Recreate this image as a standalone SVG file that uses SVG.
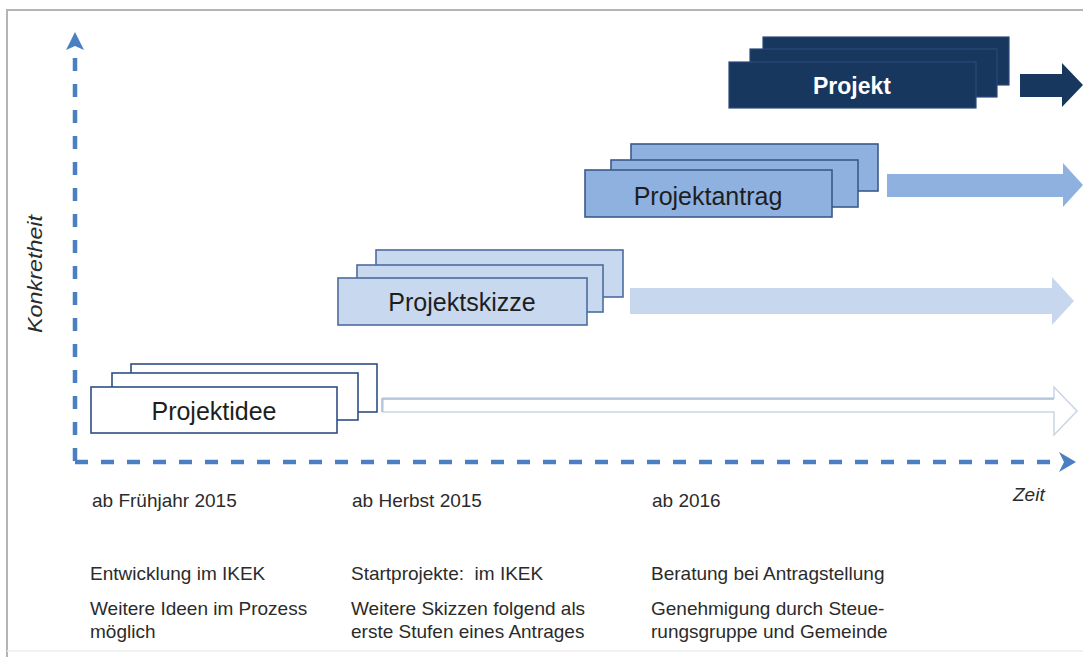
<svg xmlns="http://www.w3.org/2000/svg" width="1083" height="657" viewBox="0 0 1083 657">
  <style>
    .frame { fill: none; stroke: #b4b4b4; stroke-width: 2; }
    .axis { fill: none; stroke: #4a7fc1; stroke-width: 4.5; stroke-dasharray: 13 13; }
    .axis-head { fill: #4a7fc1; }
    .box-text { font-family: "Liberation Sans", Arial, sans-serif; font-size: 25px; text-anchor: middle; fill: #1e1e1e; }
    .note { font-family: "Liberation Sans", Arial, sans-serif; font-size: 19px; fill: #2b2b2b; }
    .axis-label { font-family: "Liberation Sans", Arial, sans-serif; font-size: 19px; font-style: italic; fill: #2b2b2b; }
    .idee rect { fill: #ffffff; stroke: #2f4f86; stroke-width: 1.6; }
    .skizze rect { fill: #c8d8ee; stroke: #4d6c9e; stroke-width: 1.6; }
    .antrag rect { fill: #8fb1df; stroke: #3a5a8c; stroke-width: 1.6; }
    .projekt rect { fill: #17375e; stroke: #2a4a78; stroke-width: 1.2; }
  </style>

  <!-- outer frame -->
  <path class="frame" d="M7 657 V10 H1083"/>
  <line x1="7" y1="651" x2="1083" y2="651" stroke="#ececec" stroke-width="1.5"/>

  <!-- axes -->
  <g id="axes">
    <line class="axis" x1="75" y1="461" x2="75" y2="50"/>
    <path class="axis-head" d="M75 32 L84 50 L75 46 L66 50 Z"/>
    <line class="axis" x1="75" y1="462" x2="1060" y2="462"/>
    <path class="axis-head" d="M1076 462 L1059 452 L1064 462 L1059 472 Z"/>
    <text class="axis-label" transform="translate(42 274) rotate(-90)" text-anchor="middle" textLength="118" lengthAdjust="spacingAndGlyphs" style="font-size:20px">Konkretheit</text>
    <text class="axis-label" x="1013" y="501">Zeit</text>
  </g>

  <!-- phase arrows -->
  <g id="connectors">
    <path d="M383 398 H1054 V387 L1077 411 L1054 435 V412 H383 Z" fill="#ffffff" stroke="#c9d5e4" stroke-width="1.5"/>
    <line x1="383" y1="399" x2="1054" y2="399" stroke="#a9bdd6" stroke-width="1.5"/>
    <line x1="382" y1="398" x2="382" y2="412" stroke="#a9bdd6" stroke-width="1.5"/>
    <path d="M630 288 H1052 V277 L1074 301 L1052 325 V314 H630 Z" fill="#c6d7ee"/>
    <path d="M887 174 H1063 V163 L1083 185 L1063 207 V197 H887 Z" fill="#8fb1df"/>
    <path d="M1020 74 H1062 V63 L1083 85 L1062 107 V97 H1020 Z" fill="#17375e"/>
  </g>

  <!-- Projektidee -->
  <g id="node-projektidee" class="idee">
    <rect x="131" y="364" width="246" height="48"/>
    <rect x="112" y="373" width="246" height="47"/>
    <rect x="91" y="387" width="246" height="46"/>
    <text class="box-text" x="214" y="420">Projektidee</text>
  </g>

  <!-- Projektskizze -->
  <g id="node-projektskizze" class="skizze">
    <rect x="376" y="250" width="247" height="47"/>
    <rect x="357" y="265" width="246" height="47"/>
    <rect x="338" y="278" width="249" height="47"/>
    <text class="box-text" x="462" y="311">Projektskizze</text>
  </g>

  <!-- Projektantrag -->
  <g id="node-projektantrag" class="antrag">
    <rect x="631" y="144" width="247" height="47"/>
    <rect x="611" y="160" width="247" height="47"/>
    <rect x="585" y="170" width="247" height="47"/>
    <text class="box-text" x="708" y="205">Projektantrag</text>
  </g>

  <!-- Projekt -->
  <g id="node-projekt" class="projekt">
    <rect x="763" y="37" width="246" height="48"/>
    <rect x="750" y="49" width="247" height="48"/>
    <rect x="729" y="62" width="247" height="46"/>
    <text class="box-text" x="852" y="94" style="fill:#ffffff;font-weight:bold;font-size:23px">Projekt</text>
  </g>

  <!-- timeline notes -->
  <g id="notes-2015-spring">
    <text class="note" x="92" y="507">ab Frühjahr 2015</text>
    <text class="note" x="90" y="580">Entwicklung im IKEK</text>
    <text class="note" x="90" y="615">Weitere Ideen im Prozess</text>
    <text class="note" x="90" y="638">möglich</text>
  </g>
  <g id="notes-2015-autumn">
    <text class="note" x="352" y="507">ab Herbst 2015</text>
    <text class="note" x="351" y="580" xml:space="preserve">Startprojekte:  im IKEK</text>
    <text class="note" x="351" y="615">Weitere Skizzen folgend als</text>
    <text class="note" x="351" y="638">erste Stufen eines Antrages</text>
  </g>
  <g id="notes-2016">
    <text class="note" x="652" y="507">ab 2016</text>
    <text class="note" x="651" y="580">Beratung bei Antragstellung</text>
    <text class="note" x="651" y="615">Genehmigung durch Steue-</text>
    <text class="note" x="651" y="638">rungsgruppe und Gemeinde</text>
  </g>
</svg>
